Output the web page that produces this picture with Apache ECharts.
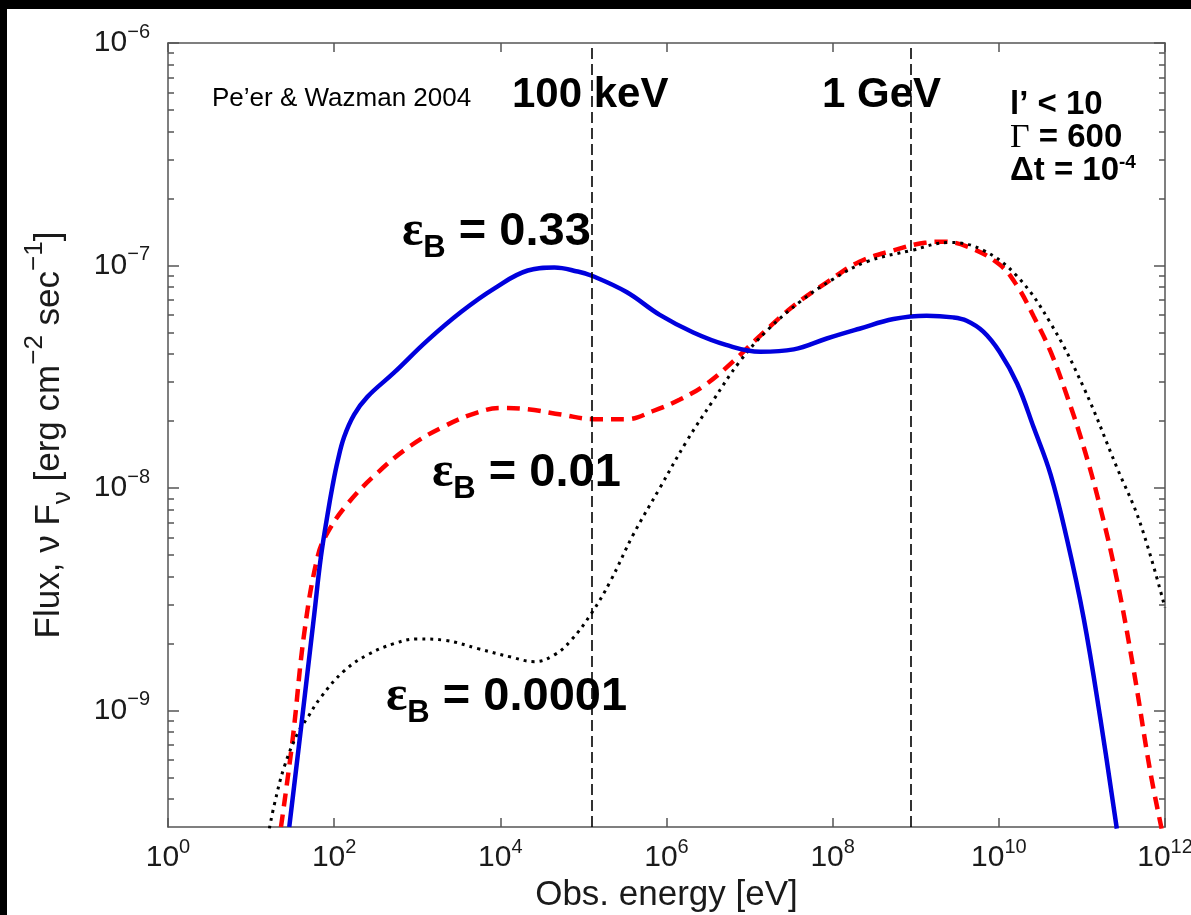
<!DOCTYPE html>
<html>
<head>
<meta charset="utf-8">
<script src="https://cdn.jsdelivr.net/npm/echarts@6/dist/echarts.min.js"></script>
<style>
	html, body { margin: 0; padding: 0; background: #fff; }
	#chart { width: 1191px; height: 915px; }
</style>
</head>
<body>
<div id="chart"></div>
<script>
// eps_B = 0.33 (blue, solid)
const energyBlue = [28.8, 39.8, 47.9, 57.5, 69.2, 83.2, 95.5, 110, 132, 174, 251, 525, 1320, 3390, 8510, 2.14e4, 4.47e4, 8.5e4, 1.26e5, 3.3e5, 8.3e5, 2.1e6, 5.2e6, 1.35e7, 3.4e7, 8.5e7, 2.1e8, 5.4e8, 1.35e9, 2.8e9, 4.1e9, 6.5e9, 1.02e10, 1.66e10, 2.63e10, 4.2e10, 6.6e10, 1.05e11, 1.66e11, 2.63e11]
const fluxBlue = [3.0e-10, 8.3e-10, 1.5e-9, 2.7e-9, 4.9e-9, 7.6e-9, 1.02e-8, 1.32e-8, 1.7e-8, 2.14e-8, 2.57e-8, 3.3e-8, 4.6e-8, 6.2e-8, 7.9e-8, 9.5e-8, 9.8e-8, 9.4e-8, 9.0e-8, 7.6e-8, 6.0e-8, 5.0e-8, 4.4e-8, 4.1e-8, 4.2e-8, 4.7e-8, 5.2e-8, 5.75e-8, 5.95e-8, 5.85e-8, 5.65e-8, 5.05e-8, 4.1e-8, 2.95e-8, 1.87e-8, 1.15e-8, 5.9e-9, 2.6e-9, 9.3e-10, 2.95e-10]

// eps_B = 0.01 (red, dashed)
const energyRed = [22.9, 31.6, 43.7, 63.1, 83.2, 145, 331, 832, 2140, 5370, 1.02e4, 2.14e4, 5.4e4, 1.35e5, 3.3e5, 6.9e5, 1.45e6, 3.0e6, 6.3e6, 1.35e7, 3.4e7, 8.5e7, 2.1e8, 5.4e8, 1.35e9, 2.0e9, 4.1e9, 1.02e10, 1.66e10, 2.63e10, 4.2e10, 6.6e10, 1.05e11, 1.66e11, 2.63e11, 4.2e11, 6.6e11, 9.1e11]
const fluxRed = [3.0e-10, 7.4e-10, 2.24e-9, 4.9e-9, 6.3e-9, 8.5e-9, 1.17e-8, 1.55e-8, 1.9e-8, 2.19e-8, 2.29e-8, 2.26e-8, 2.14e-8, 2.04e-8, 2.04e-8, 2.22e-8, 2.5e-8, 2.93e-8, 3.7e-8, 4.85e-8, 6.6e-8, 8.4e-8, 1.04e-7, 1.17e-7, 1.27e-7, 1.28e-7, 1.22e-7, 1.01e-7, 8.1e-8, 5.9e-8, 4.1e-8, 2.6e-8, 1.53e-8, 8.2e-9, 3.9e-9, 1.52e-9, 5.4e-10, 2.95e-10]

// eps_B = 0.0001 (black, dotted)
const energyBlack = [16.6, 19.1, 25.1, 36.3, 47.9, 69.2, 132, 251, 525, 1000, 2140, 5370, 1.35e4, 2.57e4, 4.47e4, 7.1e4, 1.26e5, 2.1e5, 4.0e5, 8.3e5, 1.74e6, 3.6e6, 7.6e6, 1.62e7, 4.1e7, 1.02e8, 2.57e8, 8.9e8, 2.57e9, 6.5e9, 1.66e10, 4.2e10, 1.05e11, 2.63e11, 5.0e11, 1.0e12]
const fluxBlack = [2.95e-10, 3.8e-10, 5.6e-10, 7.9e-10, 9.3e-10, 1.15e-9, 1.51e-9, 1.78e-9, 2.0e-9, 2.1e-9, 2.07e-9, 1.9e-9, 1.74e-9, 1.66e-9, 1.78e-9, 2.07e-9, 2.75e-9, 3.8e-9, 6.2e-9, 1.0e-8, 1.62e-8, 2.46e-8, 3.7e-8, 5.1e-8, 6.9e-8, 8.7e-8, 1.04e-7, 1.17e-7, 1.27e-7, 1.17e-7, 8.95e-8, 5.5e-8, 2.83e-8, 1.24e-8, 7.0e-9, 2.9e-9]

// marker lines: 100 keV and 1 GeV
const markerEnergies = [1.27e5, 8.8e8]

// axis ticks
const xMajorTicks = [1, 1e2, 1e4, 1e6, 1e8, 1e10, 1e12]
const yMajorTicks = [1e-9, 1e-8, 1e-7, 1e-6]
const yMin = 3e-10
const yMax = 1e-6

let yMinorTicks = []
for (let d = -10; d <= -7; d++) {
	for (let m = 2; m <= 9; m++) {
		const v = m * Math.pow(10, d)
		if (v > yMin && v < yMax) yMinorTicks.push(v)
	}
}

const FONT = '"Liberation Sans", Arial, Helvetica, sans-serif'
const SERIF = '"Liberation Serif", "Times New Roman", serif'
const axisColor = '#555'
const textColor = '#1a1a1a'

const pairs = (xs, ys) => xs.map((x, i) => [x, ys[i]])

powLabel = (v) => {
	const e = Math.round(Math.log10(v))
	return '{b|10}{s|' + (e < 0 ? '\u2212' + -e : e) + '}'
}

const labelRich = {
	b: { fontSize: 30, fontFamily: FONT, color: textColor, lineHeight: 42, verticalAlign: 'middle' },
	s: { fontSize: 20, fontFamily: FONT, color: textColor, verticalAlign: 'top' },
}

xAxisCfg = (pos, showLabel) => ({
	type: 'log',
	logBase: 10,
	min: 1,
	max: 1e12,
	position: pos,
	gridIndex: 0,
	axisLine: { show: true, onZero: false, lineStyle: { color: axisColor, width: 1.5 } },
	axisTick: { show: true, inside: true, length: 9, customValues: xMajorTicks, lineStyle: { color: axisColor, width: 1.5 } },
	minorTick: { show: false },
	splitLine: { show: false },
	axisLabel: {
		show: showLabel,
		customValues: xMajorTicks,
		formatter: powLabel,
		margin: 10,
		rich: labelRich,
	},
})

yAxisCfg = (pos, ticks, len, showLabel, showLine) => ({
	type: 'log',
	logBase: 10,
	min: yMin,
	max: yMax,
	position: pos,
	gridIndex: 0,
	axisLine: { show: showLine, onZero: false, lineStyle: { color: axisColor, width: 1.5 } },
	axisTick: { show: true, inside: true, length: len, customValues: ticks, lineStyle: { color: axisColor, width: 1.5 } },
	minorTick: { show: false },
	splitLine: { show: false },
	axisLabel: {
		show: showLabel,
		customValues: ticks,
		formatter: powLabel,
		margin: 18,
		rich: labelRich,
	},
})

epsLabel = (x, y, value, color) => ({
	type: 'text',
	x: x,
	y: y,
	style: {
		text: '{e|\u03b5}{b|B}{t| = ' + value + '}',
		verticalAlign: 'middle',
		align: 'left',
		rich: {
			e: { fontSize: 50, fontFamily: SERIF, fontWeight: 'bold', color: color, lineHeight: 64 },
			b: { fontSize: 31, fontFamily: FONT, fontWeight: 'bold', color: color, verticalAlign: 'bottom' },
			t: { fontSize: 47, fontFamily: FONT, fontWeight: 'bold', color: color, lineHeight: 64 },
		},
	},
})

plainText = (x, y, text, font) => ({
	type: 'text',
	x: x,
	y: y,
	style: { text: text, font: font, fill: '#000', verticalAlign: 'middle', align: 'left' },
})

const chart = echarts.init(document.getElementById('chart'))

const option = {
	animation: false,
	backgroundColor: '#fff',
	grid: { left: 168, top: 43, right: 26, bottom: 88, containLabel: false, outerBoundsMode: 'none' },
	xAxis: [
		Object.assign(xAxisCfg('bottom', true), {
			name: 'Obs. energy [eV]',
			nameLocation: 'middle',
			nameGap: 47,
			nameTextStyle: { fontSize: 35, fontFamily: FONT, color: textColor },
		}),
		xAxisCfg('top', false),
	],
	yAxis: [
		Object.assign(yAxisCfg('left', yMajorTicks, 11, true, true), {
			name: 'Flux, \u03bd F{sub|\u03bd} [erg cm{sup|\u22122} sec{sup|\u22121}]',
			nameLocation: 'middle',
			nameRotate: 90,
			nameGap: 92,
			nameTextStyle: {
				fontSize: 35,
				fontFamily: FONT,
				color: textColor,
				lineHeight: 54,
				rich: {
					sub: { fontSize: 26, fontFamily: FONT, color: textColor, verticalAlign: 'bottom' },
					sup: { fontSize: 26, fontFamily: FONT, color: textColor, verticalAlign: 'top' },
				},
			},
		}),
		yAxisCfg('left', yMinorTicks, 6, false, false),
		yAxisCfg('right', yMajorTicks, 11, false, true),
		yAxisCfg('right', yMinorTicks, 6, false, false),
	],
	series: [
		{
			name: 'eps 0.01',
			type: 'line',
			data: pairs(energyRed, fluxRed),
			showSymbol: false,
			smooth: 0.4,
			lineStyle: { color: '#ff0000', width: 4.5, type: [13, 8] },
			markLine: {
				silent: true,
				symbol: 'none',
				label: { show: false },
				lineStyle: { color: '#000', width: 1.6, type: [11, 5] },
				data: markerEnergies.map((e) => ({ xAxis: e })),
			},
		},
		{
			name: 'eps 0.0001',
			type: 'line',
			data: pairs(energyBlack, fluxBlack),
			showSymbol: false,
			smooth: 0.4,
			lineStyle: { color: '#000', width: 3, type: [3, 5] },
		},
		{
			name: 'eps 0.33',
			type: 'line',
			data: pairs(energyBlue, fluxBlue),
			showSymbol: false,
			smooth: 0.4,
			lineStyle: { color: '#0000dd', width: 4.5 },
		},
	],
	graphic: [
		{ type: 'rect', shape: { x: 0, y: 0, width: 1191, height: 9 }, style: { fill: '#000' } },
		{ type: 'rect', shape: { x: 0, y: 0, width: 7, height: 915 }, style: { fill: '#000' } },
		plainText(212, 99, 'Pe\u2019er & Wazman 2004', '26px ' + FONT),
		plainText(512, 95, '100 keV', 'bold 42px ' + FONT),
		plainText(822, 95, '1 GeV', 'bold 42px ' + FONT),
		plainText(1010, 105, 'l\u2019 < 10', 'bold 33px ' + FONT),
		{
			type: 'text',
			x: 1010,
			y: 138,
			style: {
				text: '{g|\u0393}{t| = 600}',
				verticalAlign: 'middle',
				rich: {
					g: { fontSize: 34, fontFamily: SERIF, color: '#000' },
					t: { fontSize: 33, fontFamily: FONT, fontWeight: 'bold', color: '#000' },
				},
			},
		},
		{
			type: 'text',
			x: 1010,
			y: 171,
			style: {
				text: '{t|\u0394t = 10}{s|-4}',
				verticalAlign: 'middle',
				rich: {
					t: { fontSize: 33, fontFamily: FONT, fontWeight: 'bold', color: '#000', lineHeight: 36 },
					s: { fontSize: 19, fontFamily: FONT, fontWeight: 'bold', color: '#000', verticalAlign: 'top' },
				},
			},
		},
		epsLabel(402, 232, '0.33', '#3535c8'),
		epsLabel(432, 473, '0.01', '#ff0000'),
		epsLabel(386, 697, '0.0001', '#000'),
	],
}

chart.setOption(option)
</script>
</body>
</html>
